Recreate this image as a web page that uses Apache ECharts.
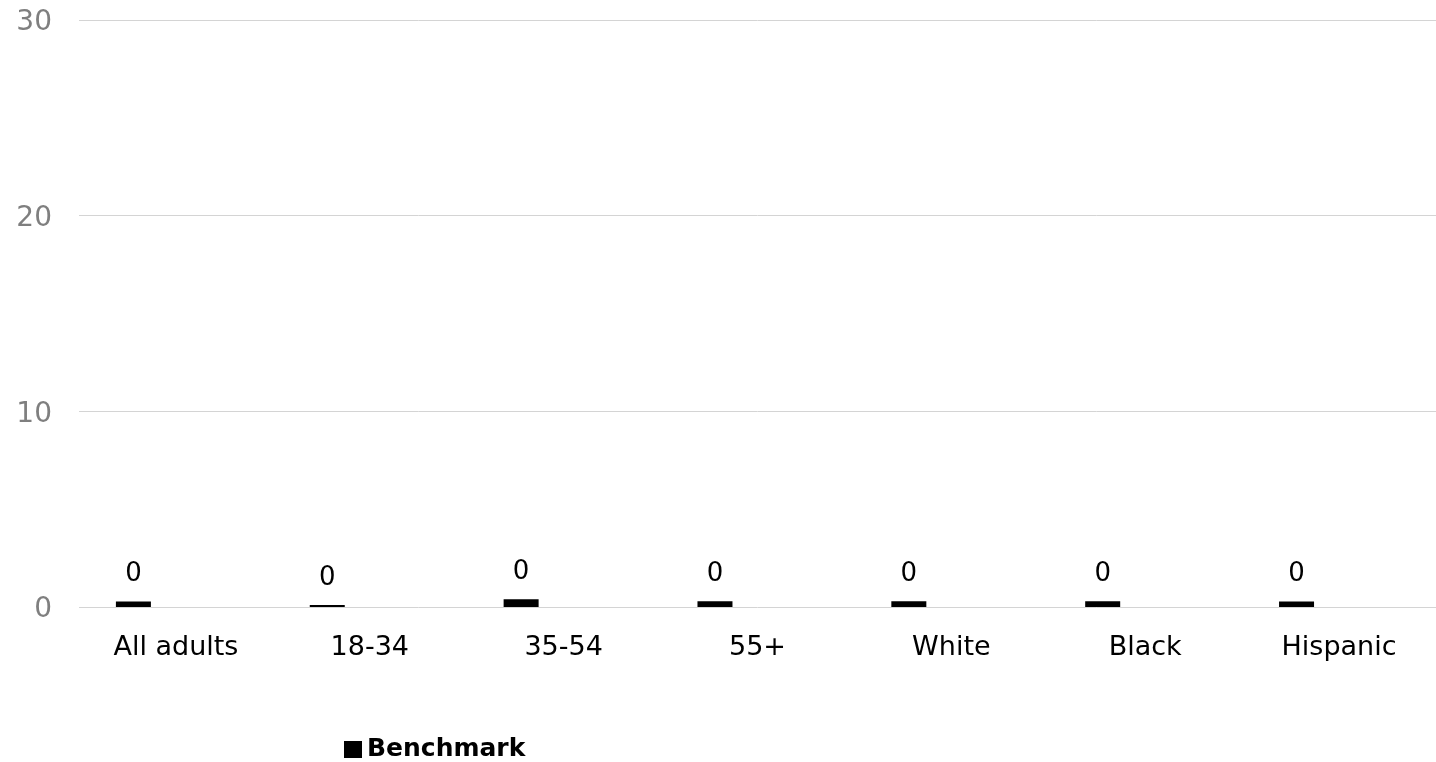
<!DOCTYPE html>
<html>
<head>
<meta charset="utf-8">
<script src="https://cdn.jsdelivr.net/npm/echarts@6/dist/echarts.min.js"></script>
<style>
  html, body { margin: 0; padding: 0; background: #fff; }
  #chart { width: 1436px; height: 762px; }
</style>
</head>
<body>
<div id="chart"></div>
<script>
// Groups along the category axis
const categories = ['All adults', '18-34', '35-54', '55+', 'White', 'Black', 'Hispanic'];
// Benchmark share per group (labels are rounded to whole numbers)
const benchmark = [0.28, 0.1, 0.4, 0.3, 0.3, 0.3, 0.28];
// Value-axis ticks
const yTicks = [0, 10, 20, 30];

const FONT = '"DejaVu Sans", "Liberation Sans", Arial, sans-serif';

const chart = echarts.init(document.getElementById('chart'));
chart.setOption({
  animation: false,
  backgroundColor: '#ffffff',
  grid: { left: 79, right: -11, top: 20, bottom: 155, containLabel: false },
  legend: {
    data: ['Benchmark'],
    left: 344,
    top: 737,
    padding: 0,
    icon: 'rect',
    itemWidth: 18,
    itemHeight: 17,
    itemGap: 10,
    textStyle: { fontFamily: FONT, fontSize: 25, fontWeight: 'bold', color: '#000' }
  },
  xAxis: {
    type: 'category',
    data: categories,
    axisLine: { show: false },
    axisTick: { show: false },
    axisLabel: {
      fontFamily: FONT,
      fontSize: 27,
      color: '#000',
      margin: 27
    }
  },
  yAxis: {
    type: 'value',
    min: yTicks[0],
    max: yTicks[yTicks.length - 1],
    interval: 10,
    axisLine: { show: false },
    axisTick: { show: false },
    splitLine: { lineStyle: { color: '#d4d4d4', width: 1 } },
    axisLabel: {
      margin: 27,
      formatter: v => '{t|' + v + '}',
      rich: {
        t: {
          fontFamily: FONT,
          fontSize: 28,
          color: '#7f7f7f',
          padding: [6, 0, 0, 0]
        }
      }
    }
  },
  series: [
    {
      name: 'Benchmark',
      type: 'bar',
      data: benchmark,
      barWidth: 35,
      barGap: '143%',
      itemStyle: { color: '#000' },
      label: {
        show: true,
        position: 'top',
        distance: 14,
        fontFamily: FONT,
        fontSize: 26,
        color: '#000',
        formatter: p => String(Math.round(p.value))
      }
    },
    {
      name: 'Other',
      type: 'bar',
      data: categories.map(() => null),
      barWidth: 35,
      itemStyle: { color: '#000' }
    }
  ]
});
</script>
</body>
</html>
